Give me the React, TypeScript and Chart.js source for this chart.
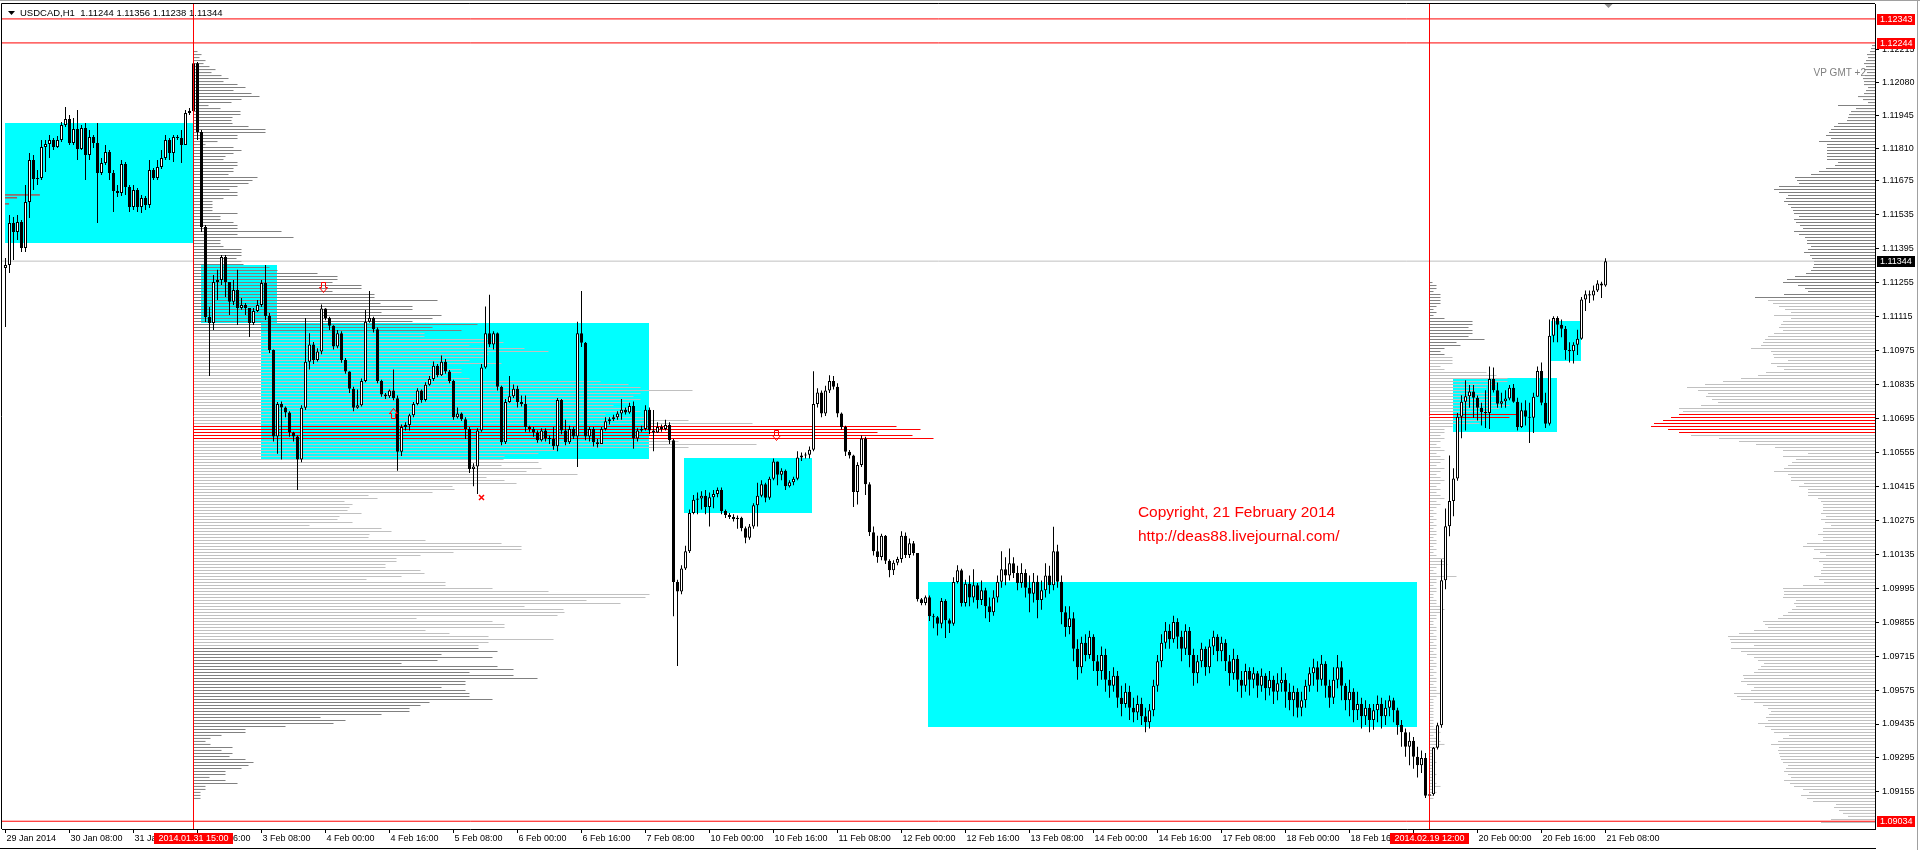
import React, { useEffect, useRef } from "react";
import { Chart, registerables } from "chart.js";

Chart.register(...registerables);

// ---------- candles (values in points above BASE; 1 point = 0.00001) ----------
const BASE = 1.09;
const POINT = 0.00001;
const FIRST_OPEN = 2316;

const CLOSE = [
  2328, 2501, 2464, 2505, 2398, 2588, 2761, 2683, 2687, 2815,
  2827, 2844, 2815, 2844, 2905, 2930, 2831, 2889, 2807, 2893,
  2782, 2856, 2831, 2708, 2749, 2794, 2708, 2633, 2625, 2745,
  2650, 2567, 2637, 2567, 2604, 2576, 2720, 2687, 2732, 2769,
  2844, 2790, 2856, 2852, 2823, 2955, 2963, 3160, 2877, 2485,
  2114, 2089, 2258, 2266, 2361, 2258, 2176, 2225, 2151, 2163,
  2151, 2089, 2138, 2163, 2254, 2118, 1978, 1621, 1755, 1740,
  1720, 1637, 1621, 1526, 1739, 1929, 2000, 1936, 1971, 2149,
  2110, 2078, 1992, 2047, 1936, 1889, 1818, 1739, 1750, 1850,
  2094, 2110, 2063, 1850, 1794, 1787, 1810, 1779, 1558, 1660,
  1668, 1708, 1755, 1810, 1771, 1834, 1858, 1913, 1873, 1929,
  1889, 1850, 1700, 1716, 1692, 1652, 1487, 1497, 1645, 1905,
  2047, 2000, 2047, 1826, 1597, 1763, 1787, 1818, 1763, 1755,
  1660, 1652, 1637, 1605, 1645, 1613, 1610, 1581, 1771, 1645,
  1597, 1652, 1621, 2047, 2007, 1621, 1652, 1597, 1590, 1652,
  1684, 1692, 1700, 1716, 1731, 1720, 1747, 1613, 1645, 1652,
  1731, 1645, 1637, 1660, 1652, 1668, 1605, 1021, 982, 1076,
  1147, 1305, 1360, 1365, 1376, 1330, 1370, 1384, 1400, 1313,
  1297, 1289, 1280, 1286, 1242, 1203, 1250, 1337, 1376, 1424,
  1368, 1447, 1518, 1463, 1479, 1416, 1432, 1447, 1534, 1542,
  1545, 1566, 1755, 1802, 1716, 1810, 1850, 1826, 1716, 1660,
  1558, 1542, 1392, 1503, 1613, 1424, 1226, 1147, 1124, 1211,
  1108, 1069, 1100, 1116, 1211, 1132, 1180, 1140, 950, 934,
  958, 879, 875, 848, 942, 863, 848, 1021, 1069, 934,
  1013, 957, 1007, 946, 987, 921, 896, 957, 1022, 1073,
  1047, 1098, 1058, 1017, 1058, 997, 972, 1022, 946, 987,
  1047, 1007, 1148, 1022, 896, 835, 871, 745, 669, 770,
  720, 795, 694, 654, 720, 618, 593, 634, 543, 518,
  568, 502, 482, 518, 467, 442, 492, 593, 694, 770,
  820, 785, 856, 795, 745, 820, 720, 644, 694, 745,
  669, 755, 795, 735, 770, 694, 644, 704, 618, 593,
  654, 618, 644, 593, 634, 583, 618, 568, 603, 618,
  568, 533, 568, 502, 533, 593, 644, 669, 618, 684,
  593, 543, 618, 669, 593, 533, 568, 492, 518, 467,
  502, 452, 492, 518, 467, 502, 533, 492, 431, 401,
  341, 366, 300, 265, 295, 139, 145, 337, 430, 1028,
  1251, 1355, 1448, 1702, 1764, 1787, 1806, 1781, 1739, 1722,
  1718, 1858, 1812, 1756, 1766, 1777, 1822, 1764, 1660, 1729,
  1702, 1698, 1785, 1891, 1760, 1673, 2036, 2109, 2082, 2065,
  1978, 1972, 1999, 2024, 2186, 2207, 2202, 2223, 2252, 2244,
  2344,
];

const HIGH = [
  2357, 2534, 2526, 2534, 2514, 2658, 2790, 2782, 2720, 2844,
  2844, 2864, 2852, 2860, 2918, 2980, 2947, 2934, 2967, 2905,
  2914, 2885, 2864, 2914, 2769, 2823, 2802, 2720, 2658, 2761,
  2753, 2658, 2658, 2646, 2617, 2613, 2761, 2728, 2761, 2802,
  2864, 2852, 2864, 2864, 2885, 2967, 2976, 3180, 3165, 2885,
  2493, 2155, 2287, 2308, 2369, 2369, 2258, 2266, 2308, 2192,
  2171, 2151, 2151, 2184, 2266, 2328, 2130, 1980, 1763, 1765,
  1745, 1725, 1640, 1625, 1750, 2110, 2047, 2010, 1985, 2165,
  2150, 2115, 2080, 2060, 2055, 1945, 1890, 1826, 1815, 1860,
  2142, 2221, 2115, 2070, 1855, 1800, 1815, 1897, 1790, 1670,
  1680, 1715, 1763, 1820, 1815, 1845, 1870, 1930, 1920, 1955,
  1940, 1895, 1855, 1740, 1720, 1700, 1660, 1510, 1655, 1920,
  2157, 2205, 2055, 2050, 1830, 1775, 1870, 1835, 1830, 1790,
  1790, 1665, 1660, 1645, 1655, 1655, 1625, 1660, 1780, 1775,
  1690, 1665, 1660, 2094, 2221, 2010, 1660, 1660, 1610, 1660,
  1700, 1700, 1710, 1725, 1775, 1740, 1760, 1765, 1655, 1665,
  1750, 1740, 1730, 1680, 1670, 1690, 1680, 1610, 1030, 1090,
  1170, 1320, 1380, 1390, 1395, 1400, 1390, 1400, 1410, 1410,
  1320, 1305, 1300, 1295, 1290, 1250, 1260, 1345, 1430, 1440,
  1430, 1455, 1530, 1515, 1490, 1485, 1440, 1455, 1560, 1555,
  1555, 1580, 1890, 1820, 1810, 1830, 1873, 1870, 1840, 1720,
  1665, 1565, 1545, 1515, 1625, 1620, 1432, 1250, 1211, 1220,
  1215, 1115, 1110, 1125, 1230, 1225, 1200, 1190, 1140, 955,
  965, 965, 890, 880, 955, 950, 870, 1040, 1090, 1075,
  1030, 1047, 1073, 1017, 1027, 997, 957, 987, 1047, 1148,
  1123, 1159, 1123, 1088, 1098, 1073, 1047, 1058, 1047, 1027,
  1098, 1088, 1249, 1174, 1047, 921, 921, 896, 785, 795,
  805, 820, 805, 720, 755, 745, 654, 669, 654, 593,
  603, 593, 543, 553, 543, 502, 518, 618, 720, 805,
  856, 846, 881, 871, 820, 846, 835, 745, 720, 770,
  755, 785, 820, 805, 795, 785, 720, 745, 720, 654,
  684, 669, 669, 654, 664, 644, 654, 634, 644, 669,
  644, 603, 593, 583, 568, 618, 669, 704, 694, 720,
  694, 618, 669, 720, 694, 603, 618, 583, 568, 543,
  533, 518, 518, 553, 543, 533, 553, 543, 502, 452,
  416, 401, 381, 341, 326, 315, 160, 340, 440, 1115,
  1324, 1542, 1490, 1718, 1791, 1853, 1833, 1833, 1790, 1760,
  1812, 1909, 1905, 1843, 1801, 1812, 1833, 1837, 1781, 1760,
  1770, 1760, 1801, 1909, 1926, 1801, 2103, 2117, 2117, 2103,
  2076, 2009, 2009, 2061, 2196, 2223, 2223, 2244, 2265, 2259,
  2356,
];

const LOW = [
  2072, 2295, 2349, 2431, 2382, 2382, 2522, 2637, 2658, 2679,
  2712, 2769, 2802, 2811, 2835, 2897, 2823, 2823, 2761, 2802,
  2679, 2761, 2811, 2501, 2699, 2741, 2679, 2547, 2609, 2613,
  2617, 2547, 2555, 2547, 2543, 2555, 2563, 2679, 2679, 2724,
  2761, 2761, 2753, 2844, 2749, 2823, 2947, 2955, 2844, 2464,
  2093, 1870, 2060, 2184, 2246, 2196, 2122, 2163, 2081, 2143,
  2122, 2031, 2081, 2134, 2155, 2101, 1965, 1600, 1550, 1526,
  1700, 1620, 1600, 1400, 1515, 1730, 1897, 1920, 1930, 1960,
  2100, 2060, 1980, 1985, 1925, 1880, 1800, 1725, 1735, 1745,
  1845, 2090, 2050, 1840, 1785, 1775, 1780, 1770, 1479, 1540,
  1645, 1645, 1700, 1750, 1760, 1765, 1830, 1850, 1865, 1870,
  1880, 1840, 1690, 1695, 1685, 1610, 1470, 1416, 1384, 1640,
  1900, 1990, 1980, 1810, 1585, 1590, 1760, 1780, 1740, 1745,
  1640, 1640, 1620, 1595, 1600, 1600, 1590, 1566, 1560, 1630,
  1585, 1590, 1610, 1495, 1990, 1605, 1600, 1580, 1575, 1590,
  1645, 1670, 1685, 1690, 1690, 1712, 1715, 1570, 1600, 1640,
  1645, 1630, 1560, 1635, 1640, 1645, 1590, 879, 674, 970,
  1070, 1140, 1300, 1300, 1320, 1300, 1250, 1325, 1370, 1300,
  1285, 1280, 1270, 1240, 1230, 1180, 1195, 1240, 1250, 1370,
  1350, 1360, 1440, 1420, 1440, 1400, 1410, 1420, 1440, 1520,
  1530, 1530, 1560, 1740, 1700, 1705, 1800, 1815, 1700, 1650,
  1540, 1530, 1330, 1340, 1495, 1380, 1210, 1130, 1100, 1110,
  1095, 1040, 1050, 1090, 1100, 1120, 1120, 1130, 940, 925,
  925, 860, 830, 800, 830, 790, 810, 840, 1015, 920,
  920, 921, 936, 911, 926, 871, 856, 881, 936, 997,
  1007, 1027, 1037, 987, 997, 957, 896, 936, 871, 906,
  957, 972, 987, 997, 846, 795, 805, 694, 618, 644,
  694, 704, 654, 593, 618, 568, 543, 568, 502, 467,
  502, 452, 442, 452, 431, 401, 416, 467, 568, 669,
  745, 745, 770, 745, 694, 720, 669, 593, 603, 669,
  634, 644, 720, 694, 694, 654, 593, 618, 568, 543,
  568, 553, 583, 543, 568, 533, 553, 518, 533, 568,
  502, 492, 467, 462, 467, 502, 568, 593, 568, 593,
  543, 502, 518, 583, 533, 492, 467, 442, 452, 416,
  431, 401, 411, 442, 416, 431, 467, 442, 391, 341,
  300, 265, 250, 214, 233, 130, 118, 139, 330, 420,
  991, 1209, 1292, 1438, 1614, 1646, 1739, 1698, 1687, 1666,
  1656, 1652, 1802, 1739, 1739, 1739, 1770, 1760, 1646, 1656,
  1666, 1594, 1635, 1801, 1750, 1656, 1666, 2009, 2009, 2030,
  1937, 1926, 1922, 1957, 2020, 2138, 2171, 2182, 2217, 2192,
  2238,
];

const SYMBOL = "USDCAD,H1";
const LAST_OHLC = [1.11244, 1.11356, 1.11238, 1.11344];

// ---------- axes ----------
const X_MIN = -0.875;
const X_MAX = 467.375;
const Y_MIN = 1.09002;
const Y_MAX = 1.124045;

const X_TICK_BARS = [0, 16, 32, 48, 64, 80, 96, 112, 128, 144, 160, 176, 192, 208, 224, 240, 256, 272, 288, 304, 320, 336, 352, 368, 384, 400];
const X_TICK_LABELS = [
  "29 Jan 2014", "30 Jan 08:00", "31 Jan 00:00", "31 Jan 16:00", "3 Feb 08:00", "4 Feb 00:00", "4 Feb 16:00",
  "5 Feb 08:00", "6 Feb 00:00", "6 Feb 16:00", "7 Feb 08:00", "10 Feb 00:00", "10 Feb 16:00", "11 Feb 08:00",
  "12 Feb 00:00", "12 Feb 16:00", "13 Feb 08:00", "14 Feb 00:00", "14 Feb 16:00", "17 Feb 08:00", "18 Feb 00:00",
  "18 Feb 16:00", "19 Feb 08:00", "20 Feb 00:00", "20 Feb 16:00", "21 Feb 08:00",
];
const Y_TICKS = [
  1.12215, 1.1208, 1.11945, 1.1181, 1.11675, 1.11535, 1.11395, 1.11255, 1.11115, 1.10975, 1.10835, 1.10695,
  1.10555, 1.10415, 1.10275, 1.10135, 1.09995, 1.09855, 1.09715, 1.09575, 1.09435, 1.09295, 1.09155,
];

// ---------- cyan zones ----------
const BOX_START = [-0.125, 48.9, 63.9, 169.6, 230.6, 361.9, 386.4];
const BOX_END = [46.9, 67.9, 160.9, 201.6, 352.9, 387.9, 393.9];
const BOX_HIGH = [1.11914, 1.11328, 1.11089, 1.10532, 1.10021, 1.10862, 1.11097];
const BOX_LOW = [1.11419, 1.11089, 1.10526, 1.10305, 1.09421, 1.10638, 1.10932];

// ---------- volume profiles (one value per price level, top to bottom) ----------
const PROFILE_STEP = 0.0001237;
const VOL_TO_BARS = 0.25;

const PROFILE_A_TOP = 1.1220825;
const PROFILE_A_ANCHOR = 47;
const PROFILE_A_VA = [1.09755, 1.1105];
const PROFILE_A_POC = [1.1061, 1.1067];
const PROFILE_A = [
  4, 8, 6, 12, 10, 16, 22, 18, 28, 35, 30, 44, 52, 40, 58, 66, 48, 38,
  15, 27, 47, 47, 39, 38, 39, 55, 72, 72, 44, 44, 24, 12, 40, 48, 40, 32, 30, 44,
  44, 40, 40, 35, 64, 59, 55, 44, 36, 44, 44, 30, 19, 19, 19, 19, 44, 27, 27, 40, 44, 44, 88,
  44, 100, 27, 27, 30, 48, 48, 48, 43, 48, 50, 76, 84, 124, 144, 144, 139, 168, 168, 139,
  181, 181, 244, 187, 219, 219, 188, 248, 239, 219, 284, 239, 268, 231, 231, 298, 310, 276, 331, 355,
  295, 290, 276, 308, 251, 268, 268, 253, 276, 407, 435, 447, 499, 447, 440, 447, 437, 420, 435, 447,
  412, 452, 495, 559,
  703, 727, 684, 719, 740, 485, 563, 495, 363, 345,
  311, 310, 345, 308, 348, 333, 384, 293, 311, 323,
  259, 261, 239, 175, 184, 151, 159, 156, 154, 168,
  146, 144, 159, 116, 188, 198, 176, 175, 232, 308,
  328, 328, 260, 227, 203, 203, 192, 192, 227, 231,
  208, 173, 252, 252, 299, 355, 456, 452, 393, 427,
  331, 370, 371, 364, 223, 299, 311, 311, 232, 256,
  295, 360, 295, 285, 285, 304, 248, 299, 244, 208,
  304, 320, 276, 320, 344, 272, 272, 248, 272, 276,
  276, 299, 236, 227, 216, 216, 188, 127, 152, 140,
  92, 52, 52, 28, 17, 12, 17, 39, 28, 39,
  36, 52, 60, 55, 48, 32, 32, 16, 32, 44,
  12, 12, 7, 7, 7,
];

const PROFILE_B_TOP = 1.1125576;
const PROFILE_B_ANCHOR = 356;
const PROFILE_B_VA = [1.08, 1.1095];
const PROFILE_B_POC = [1.10695, 1.1072];
const PROFILE_B = [
  3, 7, 7, 4, 11, 11, 11, 11, 7, 4, 7, 4, 15, 43, 43, 39, 43, 43, 39, 55, 27, 31, 15, 11, 15,
  23, 23, 23, 11, 15, 57, 67, 78, 78, 67, 57, 45, 60, 70, 62, 75, 80, 70, 60, 88, 80, 57, 50, 23, 15,
  15, 11, 15, 11, 7,
  11, 15, 7, 11, 15, 11, 7, 15, 11, 7, 11, 15, 11, 7, 11, 7, 11, 15, 7, 11,
  7, 4, 7, 4, 7, 4, 7, 4, 7, 7, 4, 7, 7, 4,
  7, 4, 7, 17, 15, 18, 7, 4, 7, 27,
  7, 7, 4, 7, 7, 4, 4, 7, 7, 11, 15, 11, 7, 7, 4, 4, 7, 7, 4, 7,
  7, 4, 7, 7, 4, 7, 7, 4, 7, 7, 4, 7, 4, 7, 7, 4, 7, 7, 11, 7,
  4, 4, 4, 4, 4, 4, 4, 4, 4, 4, 7, 11, 4, 7, 11, 15, 7, 4, 4, 4,
  4, 7, 4, 4, 4, 7, 4, 4, 7, 11, 4, 7, 4, 4,
];

const PROFILE_C_TOP = 1.1223299;
const PROFILE_C_VA = [1.08, 1.11188];
const PROFILE_C_POC = [1.1063, 1.1072];
const PROFILE_C = [
  3, 4, 5, 8, 7, 9, 11, 9, 11, 8,
  10, 12, 11, 11, 7, 9, 11, 17, 12, 7,
  37, 19, 24, 26, 27, 28, 37, 41, 44, 46,
  49, 44, 56, 48, 48, 48, 48, 48, 48, 37,
  40, 49, 56, 64, 80, 78, 76, 96, 101, 96,
  87, 89, 91, 87, 84, 82, 81, 76, 81, 79,
  75, 72, 81, 76, 70, 68, 68, 64, 67, 71,
  65, 63, 61, 61, 62, 64, 69, 80, 88, 92,
  77, 70, 67, 91, 120, 107, 102, 96, 90, 84,
  101, 84, 92, 94, 96, 92, 101, 107, 110, 112,
  114, 124, 104, 102, 101, 87, 104, 98, 91, 109,
  117, 134, 152, 170, 188, 177, 167, 169, 163, 157,
  174, 196, 192, 196, 204, 212, 221, 224, 207, 196,
  184, 156, 136, 119, 100, 92, 67, 92, 79, 83,
  87, 91, 101, 87, 84, 84, 71, 76, 67, 67,
  67, 57, 54, 52, 52, 52, 54, 49, 54, 50,
  44, 52, 52, 57, 52, 52, 68, 72, 61, 55,
  49, 62, 56, 52, 52, 54, 54, 61, 56, 51,
  72, 92, 91, 91, 92, 79, 81, 79, 83, 87,
  92, 97, 112, 110, 107, 121, 136, 147, 145, 144,
  121, 144, 134, 128, 121, 117, 111, 114, 117, 121,
  132, 131, 134, 128, 121, 124, 141, 138, 134, 121,
  112, 107, 104, 106, 109, 107, 117, 110, 104, 101,
  86, 92, 97, 104, 96, 97, 96, 95, 94, 92,
  87, 89, 91, 87, 84, 91, 85, 81, 72, 66,
  74, 68, 62, 39, 41, 36, 32, 27, 44, 54,
];

// ---------- lines, tags, markers, notes ----------
const LEVELS = [1.12343, 1.12244, 1.11344, 1.09034];
const LEVEL_COLORS = ["#ff0000", "#ff0000", "#c0c0c0", "#ff0000"];
const TAG_COLORS = ["#ff0000", "#ff0000", "#000000", "#ff0000"];

const TIME_LINE_BARS = [47, 356];
const TIME_LINE_LABELS = ["2014.01.31 15:00", "2014.02.19 12:00"];

const SEG_PRICES = [1.11617, 1.11605, 1.1158];
const SEG_START = -0.125;
const SEG_END = [8.6, 2.9, 0.9];

const MARK_BARS = [79.4, 96.75, 192.6, 118.9];
const MARK_PRICES = [1.11237, 1.10716, 1.10627, 1.10371];
const MARK_KINDS = ["down", "up", "down", "cross"];

const NOTE_LINES = ["Copyright, 21 February 2014", "http://deas88.livejournal.com/"];
const NOTE_BAR = 283.1;
const NOTE_PRICES = [1.10289, 1.1019];
const INDICATOR_LABEL = "VP GMT +2";
const SHIFT_BAR = 400.6;

const FONT = '"Liberation Sans", Arial, sans-serif';
const DARK = "#808080";
const LIGHT = "#c0c0c0";
const RED = "#ff0000";

const px = (v: number) => BASE + v * POINT;

function profileDataset(vols: number[], top: number, va: number[], poc: number[], anchor: number | null) {
  const data: any[] = [];
  const colors: string[] = [];
  vols.forEach((v, k) => {
    const p = top - k * PROFILE_STEP;
    const len = v * VOL_TO_BARS;
    const xs = anchor === null ? [X_MAX - len, X_MAX] : [anchor, anchor + len];
    data.push({ y: p, x: xs });
    const inPoc = p >= poc[0] && p <= poc[1];
    const inVa = p >= va[0] && p <= va[1];
    colors.push(inPoc ? RED : inVa ? LIGHT : DARK);
  });
  return {
    type: "bar",
    indexAxis: "y",
    data,
    backgroundColor: colors,
    borderWidth: 0,
    barThickness: 1,
    grouped: false,
    inflateAmount: 0,
    order: 6,
  };
}

function buildConfig() {
  const n = Math.min(CLOSE.length, HIGH.length, LOW.length);
  const opens: number[] = [];
  for (let i = 0; i < n; i++) opens.push(i === 0 ? FIRST_OPEN : CLOSE[i - 1]);
  const bodies: any[] = [];
  const bodyColors: string[] = [];
  const wicks: any[] = [];
  for (let i = 0; i < n; i++) {
    const o = opens[i];
    const c = CLOSE[i];
    bodies.push({ x: i, y: [px(o), px(c)] });
    bodyColors.push(c >= o ? "#ffffff" : "#000000");
    wicks.push({ x: i, y: [px(Math.min(LOW[i], o, c)), px(Math.max(HIGH[i], o, c))] });
  }

  const lineDs = (points: any[], color: string, order: number) => ({
    type: "line",
    data: points,
    borderColor: color,
    backgroundColor: color,
    borderWidth: 1,
    pointRadius: 0,
    pointHoverRadius: 0,
    tension: 0,
    fill: false,
    order,
  });

  const datasets: any[] = [
    profileDataset(PROFILE_A, PROFILE_A_TOP, PROFILE_A_VA, PROFILE_A_POC, PROFILE_A_ANCHOR),
    profileDataset(PROFILE_B, PROFILE_B_TOP, PROFILE_B_VA, PROFILE_B_POC, PROFILE_B_ANCHOR),
    profileDataset(PROFILE_C, PROFILE_C_TOP, PROFILE_C_VA, PROFILE_C_POC, null),
    ...LEVELS.map((p, k) =>
      lineDs([{ x: X_MIN, y: p }, { x: X_MAX, y: p }], LEVEL_COLORS[k], k === 2 ? 5 : 3)
    ),
    ...SEG_PRICES.map((p, k) => lineDs([{ x: SEG_START, y: p }, { x: SEG_END[k], y: p }], RED, 3)),
    {
      type: "bar",
      data: wicks,
      backgroundColor: "#000000",
      borderWidth: 0,
      barThickness: 1,
      grouped: false,
      inflateAmount: 0,
      order: 2,
    },
    {
      type: "bar",
      data: bodies,
      backgroundColor: bodyColors,
      borderColor: "#000000",
      borderWidth: 1,
      borderSkipped: false,
      barThickness: 3,
      minBarLength: 1,
      grouped: false,
      inflateAmount: 0,
      order: 1,
    },
    ...TIME_LINE_BARS.map((b) => lineDs([{ x: b, y: Y_MIN }, { x: b, y: Y_MAX }], RED, 0)),
  ];

  const overlay = {
    id: "mt4overlay",
    beforeDatasetsDraw(chart: any) {
      const { ctx, chartArea: a, scales } = chart;
      const x = scales.x;
      const y = scales.y;
      ctx.save();
      ctx.beginPath();
      ctx.rect(a.left, a.top, a.right - a.left, a.bottom - a.top);
      ctx.clip();
      ctx.fillStyle = "#00ffff";
      for (let k = 0; k < BOX_START.length; k++) {
        const x0 = Math.round(x.getPixelForValue(BOX_START[k]));
        const x1 = Math.round(x.getPixelForValue(BOX_END[k]));
        const y0 = Math.round(y.getPixelForValue(BOX_HIGH[k]));
        const y1 = Math.round(y.getPixelForValue(BOX_LOW[k]));
        ctx.fillRect(x0, y0, x1 - x0, y1 - y0);
      }
      ctx.restore();
    },
    afterDraw(chart: any) {
      const { ctx, chartArea: a, scales } = chart;
      const x = scales.x;
      const y = scales.y;
      const W = chart.width;
      const H = chart.height;
      ctx.save();

      // frame
      ctx.lineWidth = 1;
      ctx.strokeStyle = "#000";
      ctx.beginPath();
      ctx.moveTo(a.left - 0.5, a.bottom);
      ctx.lineTo(a.left - 0.5, a.top - 0.5);
      ctx.lineTo(a.right, a.top - 0.5);
      ctx.stroke();
      ctx.beginPath();
      ctx.moveTo(0, H - 1.5);
      ctx.lineTo(a.right + 1, H - 1.5);
      ctx.stroke();
      ctx.strokeStyle = "#a0a0a0";
      ctx.beginPath();
      ctx.moveTo(W - 2.5, 0);
      ctx.lineTo(W - 2.5, H);
      ctx.moveTo(0, 0.5);
      ctx.lineTo(W, 0.5);
      ctx.stroke();

      // markers (hollow arrows, cross)
      ctx.save();
      ctx.beginPath();
      ctx.rect(a.left, a.top, a.right - a.left, a.bottom - a.top);
      ctx.clip();
      for (let k = 0; k < MARK_BARS.length; k++) {
        const cx = Math.round(x.getPixelForValue(MARK_BARS[k])) + 0.5;
        const cy = Math.round(y.getPixelForValue(MARK_PRICES[k])) + 0.5;
        ctx.strokeStyle = RED;
        ctx.lineWidth = 1;
        if (MARK_KINDS[k] === "cross") {
          ctx.lineWidth = 1.5;
          ctx.beginPath();
          ctx.moveTo(cx - 2.5, cy - 2.5);
          ctx.lineTo(cx + 2.5, cy + 2.5);
          ctx.moveTo(cx + 2.5, cy - 2.5);
          ctx.lineTo(cx - 2.5, cy + 2.5);
          ctx.stroke();
        } else {
          const s = MARK_KINDS[k] === "down" ? 1 : -1;
          ctx.beginPath();
          ctx.moveTo(cx - 2, cy - 5 * s);
          ctx.lineTo(cx + 2, cy - 5 * s);
          ctx.lineTo(cx + 2, cy);
          ctx.lineTo(cx + 4, cy);
          ctx.lineTo(cx, cy + 5 * s);
          ctx.lineTo(cx - 4, cy);
          ctx.lineTo(cx - 2, cy);
          ctx.closePath();
          ctx.stroke();
        }
      }
      ctx.restore();

      // header
      ctx.fillStyle = "#000";
      ctx.beginPath();
      ctx.moveTo(a.left + 6, a.top + 7);
      ctx.lineTo(a.left + 13, a.top + 7);
      ctx.lineTo(a.left + 9.5, a.top + 11);
      ctx.closePath();
      ctx.fill();
      ctx.font = `9.5px ${FONT}`;
      ctx.textAlign = "left";
      ctx.textBaseline = "alphabetic";
      ctx.fillText(`${SYMBOL}  ${LAST_OHLC.map((v) => v.toFixed(5)).join(" ")}`, a.left + 18, a.top + 12);

      // indicator label
      ctx.font = `10px ${FONT}`;
      ctx.fillStyle = "#808080";
      ctx.textAlign = "right";
      ctx.fillText(INDICATOR_LABEL, a.right - 9, a.top + 72);

      // notes
      ctx.font = `15.5px ${FONT}`;
      ctx.fillStyle = RED;
      ctx.textAlign = "left";
      NOTE_LINES.forEach((t, k) => {
        ctx.fillText(t, x.getPixelForValue(NOTE_BAR), y.getPixelForValue(NOTE_PRICES[k]));
      });

      // shift marker
      const sx = Math.round(x.getPixelForValue(SHIFT_BAR)) + 0.5;
      ctx.fillStyle = "#909090";
      ctx.beginPath();
      ctx.moveTo(sx - 4, a.top);
      ctx.lineTo(sx + 4, a.top);
      ctx.lineTo(sx, a.top + 4);
      ctx.closePath();
      ctx.fill();

      // price tags
      ctx.font = `9px ${FONT}`;
      ctx.textBaseline = "middle";
      LEVELS.forEach((p, k) => {
        const py = Math.round(y.getPixelForValue(p));
        ctx.fillStyle = TAG_COLORS[k];
        ctx.fillRect(a.right + 2, py - 5, 38, 11);
        ctx.fillStyle = "#ffffff";
        ctx.textAlign = "left";
        ctx.fillText(p.toFixed(5), a.right + 5, py + 0.5);
      });

      // time tags
      TIME_LINE_BARS.forEach((b, k) => {
        const bx = x.getPixelForValue(b);
        const t = TIME_LINE_LABELS[k];
        const w = Math.round(ctx.measureText(t).width + 9);
        ctx.fillStyle = RED;
        ctx.fillRect(Math.round(bx - w / 2), a.bottom + 4, w, 11);
        ctx.fillStyle = "#ffffff";
        ctx.textAlign = "center";
        ctx.fillText(t, bx, a.bottom + 9.5);
      });

      ctx.restore();
    },
  };

  const tickFont = { family: FONT, size: 9 };

  return {
    type: "bar",
    data: { datasets },
    plugins: [overlay],
    options: {
      responsive: false,
      maintainAspectRatio: false,
      animation: false,
      devicePixelRatio: 1,
      events: [],
      layout: { padding: { left: 2, top: 4, right: 0, bottom: 0 } },
      plugins: {
        legend: { display: false },
        tooltip: { enabled: false },
        title: { display: false },
      },
      scales: {
        x: {
          type: "linear",
          position: "bottom",
          min: X_MIN,
          max: X_MAX,
          offset: false,
          afterBuildTicks: (s: any) => {
            s.ticks = X_TICK_BARS.map((v) => ({ value: v }));
          },
          afterFit: (s: any) => {
            s.height = 21;
            s.paddingLeft = 0;
            s.paddingRight = 0;
            s.paddingTop = 0;
            s.paddingBottom = 0;
          },
          grid: { display: true, drawOnChartArea: false, drawTicks: true, tickLength: 4, color: "#000", offset: false },
          border: { display: true, color: "#000" },
          ticks: {
            autoSkip: false,
            maxRotation: 0,
            minRotation: 0,
            align: "start",
            padding: 0,
            labelOffset: 1,
            color: "#000",
            font: tickFont,
            callback: (v: any) => {
              const k = X_TICK_BARS.indexOf(Number(v));
              return k >= 0 ? X_TICK_LABELS[k] : "";
            },
          },
        },
        y: {
          type: "linear",
          position: "right",
          min: Y_MIN,
          max: Y_MAX,
          offset: false,
          afterBuildTicks: (s: any) => {
            s.ticks = Y_TICKS.map((v) => ({ value: v }));
          },
          afterFit: (s: any) => {
            s.width = 45;
            s.paddingLeft = 0;
            s.paddingRight = 0;
            s.paddingTop = 0;
            s.paddingBottom = 0;
          },
          grid: { display: true, drawOnChartArea: false, drawTicks: true, tickLength: 4, color: "#000", offset: false },
          border: { display: true, color: "#000" },
          ticks: {
            autoSkip: false,
            padding: 3,
            color: "#000",
            font: tickFont,
            callback: (v: any) => Number(v).toFixed(5),
          },
        },
      },
    },
  };
}

export default function App() {
  const ref = useRef<HTMLCanvasElement | null>(null);
  useEffect(() => {
    document.body.style.margin = "0";
    const canvas = ref.current;
    if (!canvas) return;
    const chart = new Chart(canvas, buildConfig() as any);
    return () => chart.destroy();
  }, []);
  return (
    <div style={{ position: "absolute", left: 0, top: 0, width: 1920, height: 850, background: "#ffffff" }}>
      <canvas ref={ref} width={1920} height={850} style={{ display: "block", width: 1920, height: 850 }} />
    </div>
  );
}
